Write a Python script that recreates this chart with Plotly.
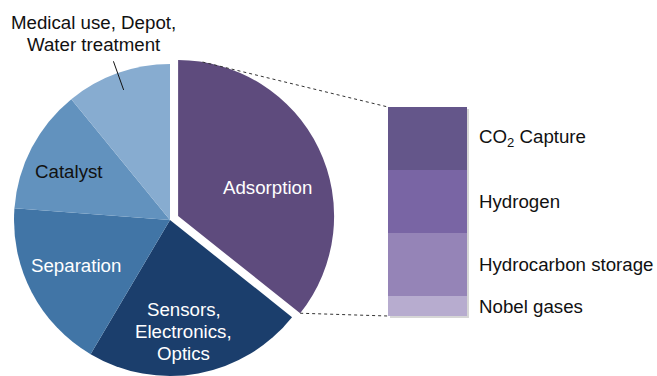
import math
import plotly.graph_objects as go

# ---- data -------------------------------------------------------------
# Application areas (share, %); "Adsorption" is broken down in the bar
applications = ["Adsorption", "Sensors, Electronics, Optics", "Separation",
                "Catalyst", "Medical use, Depot, Water treatment"]
other_values = [22.8, 17.7, 12.9, 10.9]          # all areas except Adsorption

adsorption_parts = ["CO<sub>2</sub> Capture", "Hydrogen",
                    "Hydrocarbon storage", "Nobel gases"]
adsorption_values = [10.7, 10.8, 10.8, 3.4]

# Text drawn on / next to the pie slices (same order as applications)
slice_text = ["Adsorption", "Sensors,\nElectronics,\nOptics", "Separation",
              "Catalyst", "Medical use, Depot,\nWater treatment"]

# ---- styling ----------------------------------------------------------
pie_colors = ["#5E4B7D", "#1B3E6C", "#4175A6", "#6292BE", "#87ACD0"]
bar_colors = ["#64568A", "#7965A4", "#9584B7", "#B7ACCF"]
text_colors = ["white", "white", "white", "#111111", "#111111"]
FONT = "Liberation Sans, Arial, sans-serif"
FS = 18.7
LINE = 22

W, H = 657, 376
CX, CY, R = 170, 220, 156      # pie centre / radius in pixels
PULL = 9                       # how far the Adsorption slice is pulled out
BAR_X0, BAR_X1 = 388, 467      # bar column, pixels
BAR_TOP, BAR_BOT = 107, 316

# label placement: (angle in degrees, fraction of radius)
label_place = [(17.5, 0.60), (-83.0, 0.72), (-154.4, 0.67),
               (154.6, 0.72), (112.2, 1.29)]

def px(x):
    return x / W

def py(y):
    return 1 - y / H

ads_total = sum(adsorption_values)
values = [ads_total] + other_values
total = sum(values)

# slice boundary angles (clockwise from 12 o'clock)
bounds = [90.0]
for v in values:
    bounds.append(bounds[-1] - 360.0 * v / total)
mids = [(bounds[i] + bounds[i + 1]) / 2 for i in range(len(values))]

# centre of the pulled-out Adsorption slice
m = math.radians(mids[0])
ACX, ACY = CX + PULL * math.cos(m), CY - PULL * math.sin(m)


def domain(cx, cy):
    return dict(x=[max(0, px(cx - R)), min(1, px(cx + R))],
                y=[max(0, py(cy + R)), min(1, py(cy - R))])


fig = go.Figure()

# main pie (Adsorption slot left empty)
fig.add_trace(go.Pie(
    values=values, labels=applications, sort=False, direction="clockwise",
    rotation=0, textinfo="none", hoverinfo="skip", showlegend=False,
    marker=dict(colors=["rgba(0,0,0,0)"] + pie_colors[1:], line=dict(width=0)),
    domain=domain(CX, CY)))

# pulled-out Adsorption slice
fig.add_trace(go.Pie(
    values=[ads_total, total - ads_total], labels=["Adsorption", "rest"],
    sort=False, direction="clockwise", rotation=0, textinfo="none",
    hoverinfo="skip", showlegend=False,
    marker=dict(colors=[pie_colors[0], "rgba(0,0,0,0)"], line=dict(width=0)),
    domain=domain(ACX, ACY)))

# stacked bar: bottom to top
for name, val, col in list(zip(adsorption_parts, adsorption_values, bar_colors))[::-1]:
    fig.add_trace(go.Bar(x=[0], y=[val], name=name, width=1,
                         marker=dict(color=col, line=dict(width=0)),
                         hoverinfo="skip", showlegend=False))

annotations = []

# slice labels
for i, (txt, (ang, frac)) in enumerate(zip(slice_text, label_place)):
    cx, cy = (ACX, ACY) if i == 0 else (CX, CY)
    a = math.radians(ang)
    lx, ly = cx + frac * R * math.cos(a), cy - frac * R * math.sin(a)
    lines = txt.split("\n")
    for k, line in enumerate(lines):
        yy = ly + (k - (len(lines) - 1) / 2) * LINE
        annotations.append(dict(
            x=px(lx), y=py(yy), xref="paper", yref="paper", text=line,
            showarrow=False, xanchor="center", yanchor="middle",
            font=dict(family=FONT, size=FS, color=text_colors[i])))

# bar segment labels at the middle of each segment
cum = 0
mid_vals = []
for v in adsorption_values[::-1]:
    mid_vals.append(cum + v / 2)
    cum += v
mid_vals = mid_vals[::-1]
for name, yv in zip(adsorption_parts, mid_vals):
    annotations.append(dict(
        x=0.5, y=yv, xref="x", yref="y", text=name, showarrow=False,
        xanchor="left", yanchor="middle", xshift=10,
        font=dict(family=FONT, size=FS, color="#111111")))

shapes = []
# leader line for the small slice
a = math.radians(mids[4])
shapes.append(dict(type="line", xref="paper", yref="paper",
                   x0=px(CX + 0.885 * R * math.cos(a)), y0=py(CY - 0.885 * R * math.sin(a)),
                   x1=px(CX + 1.08 * R * math.cos(a)), y1=py(CY - 1.08 * R * math.sin(a)),
                   line=dict(color="#111111", width=1)))

# dotted connectors from the Adsorption slice to the bar
t = math.radians(81)
shapes.append(dict(type="line", xref="paper", yref="paper",
                   x0=px(ACX + R * math.cos(t)), y0=py(ACY - R * math.sin(t)),
                   x1=px(BAR_X0), y1=py(BAR_TOP),
                   line=dict(color="#333333", width=1, dash="dot")))
b = math.radians(bounds[1])
shapes.append(dict(type="line", xref="paper", yref="paper",
                   x0=px(ACX + R * math.cos(b)), y0=py(ACY - R * math.sin(b)),
                   x1=px(BAR_X0), y1=py(BAR_BOT),
                   line=dict(color="#333333", width=1, dash="dot")))

# soft shadow behind the bar
shapes.append(dict(type="rect", xref="paper", yref="paper", layer="below",
                   x0=px(BAR_X0 + 2), x1=px(BAR_X1 + 2),
                   y0=py(BAR_BOT + 2), y1=py(BAR_TOP + 2),
                   fillcolor="#d6d6d6", line=dict(width=0)))

fig.update_layout(
    width=W, height=H, margin=dict(l=0, r=0, t=0, b=0),
    paper_bgcolor="white", plot_bgcolor="rgba(0,0,0,0)",
    barmode="stack", bargap=0,
    xaxis=dict(domain=[px(BAR_X0), px(BAR_X1)], range=[-0.5, 0.5],
               visible=False, fixedrange=True),
    yaxis=dict(domain=[py(BAR_BOT), py(BAR_TOP)], range=[0, ads_total],
               visible=False, fixedrange=True),
    annotations=annotations, shapes=shapes,
)

fig.write_html("out.html", config={"displayModeBar": False})
